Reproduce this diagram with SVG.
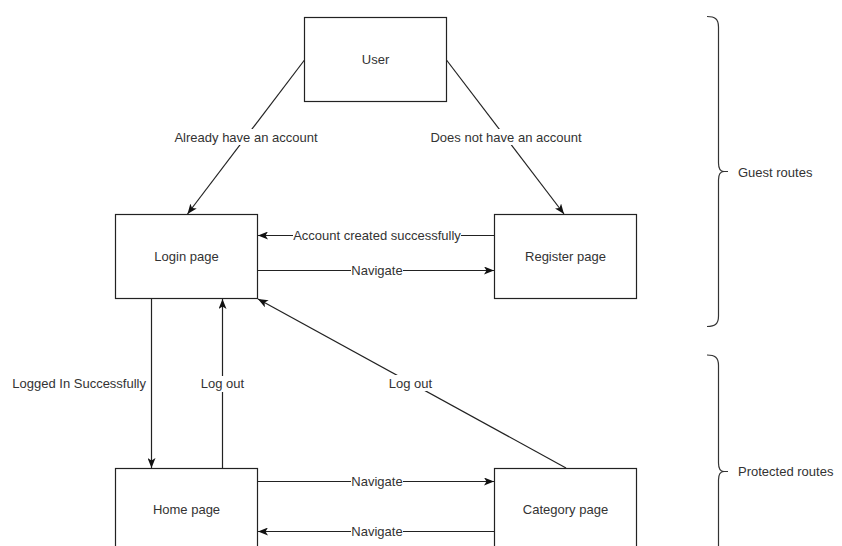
<svg xmlns="http://www.w3.org/2000/svg" width="842" height="546" viewBox="0 0 842 546">
  <defs>
    <marker id="arr" viewBox="0 0 10 8" refX="10" refY="4" markerWidth="10" markerHeight="8" orient="auto" markerUnits="userSpaceOnUse">
      <path d="M0,0 L10,4 L0,8 L2.5,4 Z" fill="#111"/>
    </marker>
    <style>
      .box { fill: #fff; stroke: #222; stroke-width: 1.2; }
      .edge { fill: none; stroke: #222; stroke-width: 1.2; marker-end: url(#arr); }
      .brace { fill: none; stroke: #333; stroke-width: 1.2; }
      .t { font-family: "Liberation Sans", Arial, sans-serif; font-size: 13px; fill: #333; }
      .c { text-anchor: middle; }
      .lblbg { fill: #fff; }
    </style>
  </defs>
  <rect width="842" height="546" fill="#fff"/>

  <g id="connectors">
    <g id="e-user-login">
      <path class="edge" d="M304.5,60 L187.5,214"/>
      <rect class="lblbg" x="174" y="129" width="144" height="16"/>
      <text class="t c" x="246" y="141.5">Already have an account</text>
    </g>
    <g id="e-user-register">
      <path class="edge" d="M446.5,60 L564,214"/>
      <rect class="lblbg" x="430" y="129" width="152" height="16"/>
      <text class="t c" x="506" y="141.5">Does not have an account</text>
    </g>
    <g id="e-register-login">
      <path class="edge" d="M494,235.5 L258,235.5"/>
      <rect class="lblbg" x="293" y="228" width="168" height="15"/>
      <text class="t c" x="377" y="240">Account created successfully</text>
    </g>
    <g id="e-login-register">
      <path class="edge" d="M258,270.5 L494,270.5"/>
      <rect class="lblbg" x="351" y="263" width="52" height="15"/>
      <text class="t c" x="377" y="275">Navigate</text>
    </g>
    <g id="e-login-home">
      <path class="edge" d="M151.5,299 L151.5,468"/>
      <text class="t" x="146" y="388" text-anchor="end">Logged In Successfully</text>
    </g>
    <g id="e-home-login">
      <path class="edge" d="M222.5,468 L222.5,299"/>
      <rect class="lblbg" x="200" y="376" width="45" height="16"/>
      <text class="t c" x="222.5" y="388">Log out</text>
    </g>
    <g id="e-category-login">
      <path class="edge" d="M566,468 L258,299"/>
      <rect class="lblbg" x="388" y="375" width="45" height="16"/>
      <text class="t c" x="410.5" y="387.5">Log out</text>
    </g>
    <g id="e-home-category">
      <path class="edge" d="M258,481.5 L494,481.5"/>
      <rect class="lblbg" x="351" y="474" width="52" height="15"/>
      <text class="t c" x="377" y="486">Navigate</text>
    </g>
    <g id="e-category-home">
      <path class="edge" d="M494,531.5 L258,531.5"/>
      <rect class="lblbg" x="351" y="524" width="52" height="15"/>
      <text class="t c" x="377" y="536">Navigate</text>
    </g>
  </g>

  <g id="node-user">
    <rect class="box" x="304.5" y="17.5" width="142" height="84"/>
    <text class="t c" x="375.5" y="64">User</text>
  </g>
  <g id="node-login">
    <rect class="box" x="115.5" y="214.5" width="142" height="84"/>
    <text class="t c" x="186.5" y="261">Login page</text>
  </g>
  <g id="node-register">
    <rect class="box" x="494.5" y="214.5" width="142" height="84"/>
    <text class="t c" x="565.5" y="261">Register page</text>
  </g>
  <g id="node-home">
    <rect class="box" x="115.5" y="468.5" width="142" height="84"/>
    <text class="t c" x="186.5" y="514">Home page</text>
  </g>
  <g id="node-category">
    <rect class="box" x="494.5" y="468.5" width="142" height="84"/>
    <text class="t c" x="565.5" y="514">Category page</text>
  </g>

  <g id="guest-routes">
    <path class="brace" d="M707,16.5 C715,16.5 718.5,19 718.5,27 L718.5,163 C718.5,169 720,171.5 724,171.5 L728,171.5 M724,171.5 C720,171.5 718.5,174 718.5,180 L718.5,316 C718.5,324 715,326.5 707,326.5"/>
    <text class="t" x="738" y="176.5">Guest routes</text>
  </g>
  <g id="protected-routes">
    <path class="brace" d="M707,355 C715,355 718.5,357.5 718.5,365.5 L718.5,463 C718.5,469 720,471.5 724,471.5 L728,471.5 M724,471.5 C720,471.5 718.5,474 718.5,480 L718.5,578 C718.5,586 715,588 707,588"/>
    <text class="t" x="738" y="476">Protected routes</text>
  </g>
</svg>
